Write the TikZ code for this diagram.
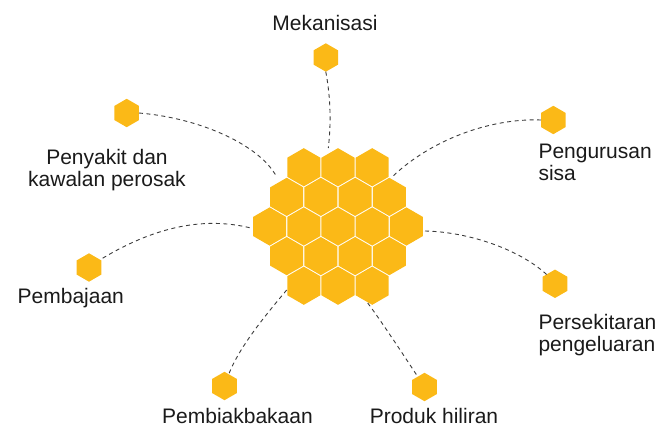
\documentclass[tikz,border=0pt]{standalone}
\usepackage{fontspec}
\setmainfont{Liberation Sans}
\usetikzlibrary{shapes.geometric}
\definecolor{honey}{HTML}{FBB917}
\definecolor{ink}{HTML}{1A1A1A}
\begin{document}
\begin{tikzpicture}[x=1pt,y=-1pt,
  bighex/.style={regular polygon, regular polygon sides=6, shape border rotate=30,
    minimum size=38.2pt, inner sep=0pt, outer sep=0pt, fill=honey},
  smallhex/.style={regular polygon, regular polygon sides=6, shape border rotate=30,
    minimum size=28.4pt, inner sep=0pt, outer sep=0pt, fill=honey},
  lbl/.style={font=\fontsize{21}{22.5}\selectfont, text=ink, inner sep=0pt},
  link/.style={draw=ink!85, line width=0.9pt, dash pattern=on 4pt off 3.5pt}]
\useasboundingbox (0,0) rectangle (667,427);

% central honeycomb
\foreach \r/\n in {-2/3,-1/4,0/5,1/4,2/3} {
  \foreach \i in {1,...,\n} {
    \node[bighex] (h\r-\i) at ({338+(\i-(\n+1)/2)*34.2},{226.5+\r*29.62}) {};
  }
}

% small hexagons
\node[smallhex] (mek)   at (325.8,57.5) {};
\node[smallhex] (peny)  at (126.7,113) {};
\node[smallhex] (peng)  at (553.3,120) {};
\node[smallhex] (pemba) at (89,267.5) {};
\node[smallhex] (pers)  at (555,283.8) {};
\node[smallhex] (pembi) at (224.5,386) {};
\node[smallhex] (prod)  at (424.5,387) {};

% cluster ends of the connectors
\coordinate (cm)  at (328.3,148);
\coordinate (cpy) at (276.7,177);
\coordinate (cpg) at (391,178);
\coordinate (cpa) at (252,228.3);
\coordinate (cpe) at (425,231);
\coordinate (cpb) at (286.7,290);
\coordinate (cpr) at (367.7,303);

% connectors
\draw[link] (mek.south) .. controls (331,100) and (331,125) .. (cm);
\draw[link] (peny.east) .. controls (200,118) and (260,145) .. (cpy);
\draw[link] (peng.west) .. controls (490,118) and (430,140) .. (cpg);
\draw[link, shorten <=3pt] (pemba.35) .. controls (150,230) and (200,215) .. (cpa);
\draw[link] (cpe) .. controls (470,232) and (520,250) .. (pers.132);
\draw[link] (cpb) .. controls (270,310) and (240,345) .. (pembi.70);
\draw[link] (cpr) .. controls (382,322) and (408,362) .. (prod.123);

% labels
\node[lbl, anchor=base] (tmek) at (325,31) {Mekanisasi};
\node[lbl, anchor=base] (tpeny) at (107,164.3)
  {\begin{tabular}[t]{@{}c@{}}Penyakit dan\\kawalan perosak\end{tabular}};
\node[lbl, anchor=base west] (tpeng) at (538.3,158.3)
  {\begin{tabular}[t]{@{}l@{}}Pengurusan\\sisa\end{tabular}};
\node[lbl, anchor=base] (tpemba) at (70.8,304) {Pembajaan};
\node[lbl, anchor=base west] (tpers) at (538.3,329.3)
  {\begin{tabular}[t]{@{}l@{}}Persekitaran\\pengeluaran\end{tabular}};
\node[lbl, anchor=base] (tpembi) at (237.5,423.5) {Pembiakbakaan};
\node[lbl, anchor=base] (tprod) at (434,423.5) {Produk hiliran};
\end{tikzpicture}
\end{document}
